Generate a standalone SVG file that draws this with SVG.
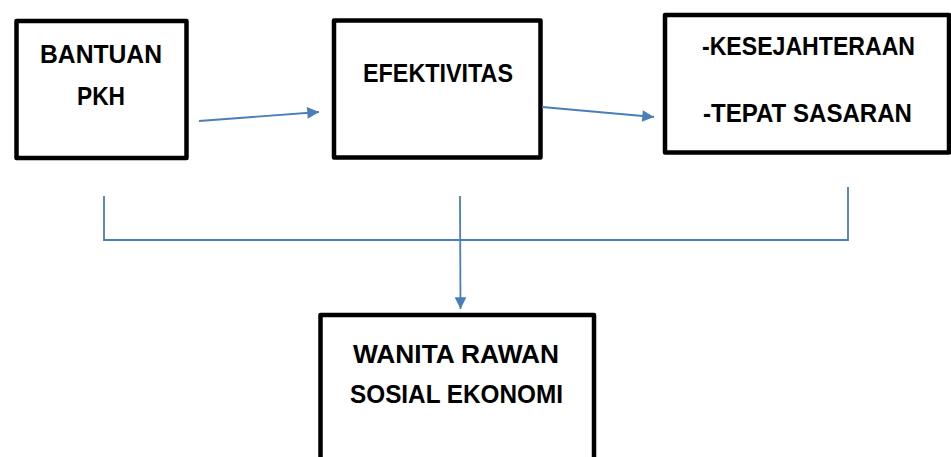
<svg xmlns="http://www.w3.org/2000/svg" width="951" height="457" viewBox="0 0 951 457">
<style>
.box{fill:#fff;stroke:#000;stroke-width:4.5;stroke-linejoin:round}
.t{font-family:"Liberation Sans",Arial,sans-serif;font-weight:bold;font-size:25px;fill:#000;text-anchor:middle}
.c{fill:none;stroke:#4a7ebb;stroke-width:1.8}
</style>
<defs>
<marker id="ah" viewBox="0 0 10 10" refX="10" refY="5" markerWidth="8" markerHeight="6.5" markerUnits="strokeWidth" orient="auto">
<path d="M0,0 L10,5 L0,10 z" fill="#4a7ebb"/>
</marker>
</defs>
<rect width="951" height="457" fill="#fff"/>
<g id="node-bantuan">
<rect class="box" x="16.5" y="21" width="170" height="137"/>
<text class="t" x="101" y="63" textLength="122" lengthAdjust="spacingAndGlyphs">BANTUAN</text>
<text class="t" x="101" y="105" textLength="48" lengthAdjust="spacingAndGlyphs">PKH</text>
</g>
<g id="node-efektivitas">
<rect class="box" x="334" y="20.5" width="206.5" height="137"/>
<text class="t" x="438" y="82" textLength="150" lengthAdjust="spacingAndGlyphs">EFEKTIVITAS</text>
</g>
<g id="node-kesejahteraan">
<rect class="box" x="665" y="15" width="284" height="137.5"/>
<text class="t" x="808.5" y="55" textLength="213" lengthAdjust="spacingAndGlyphs">-KESEJAHTERAAN</text>
<text class="t" x="807.5" y="122" textLength="209" lengthAdjust="spacingAndGlyphs">-TEPAT SASARAN</text>
</g>
<g id="node-wanita">
<rect class="box" x="320.5" y="315" width="273.5" height="160"/>
<text class="t" x="456" y="363" textLength="206" lengthAdjust="spacingAndGlyphs">WANITA RAWAN</text>
<text class="t" x="456.5" y="403" textLength="213" lengthAdjust="spacingAndGlyphs">SOSIAL EKONOMI</text>
</g>
<g id="connectors">
<line class="c" x1="199" y1="121" x2="319" y2="112" marker-end="url(#ah)"/>
<line class="c" x1="542" y1="107" x2="654" y2="117" marker-end="url(#ah)"/>
<polyline class="c" points="104,196 104,240 848,240 848,187"/>
<line class="c" x1="460" y1="196" x2="460.5" y2="309" marker-end="url(#ah)"/>
</g>
</svg>
